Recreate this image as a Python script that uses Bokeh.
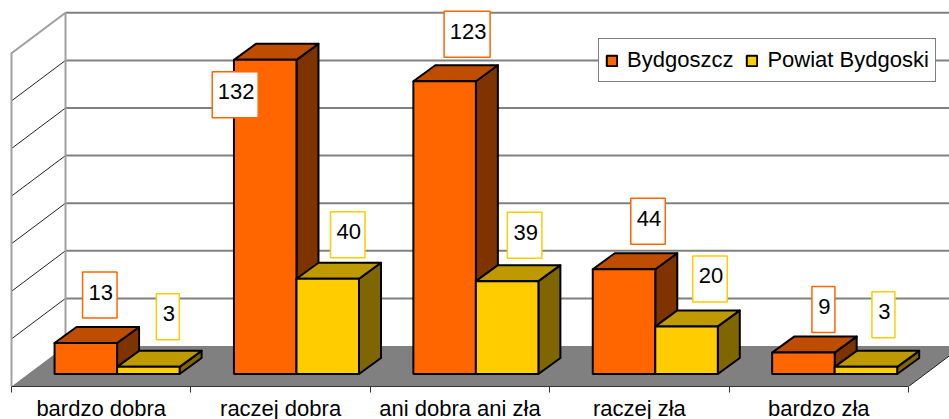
from bokeh.plotting import figure
from bokeh.models import FixedTicker, Legend, LegendItem, Range1d
from bokeh.core.properties import value
from bokeh.embed import file_html
from bokeh.resources import INLINE

categories = ["bardzo dobra", "raczej dobra", "ani dobra ani zła", "raczej zła", "bardzo zła"]
bydgoszcz = [13, 132, 123, 44, 9]
powiat = [3, 40, 39, 20, 3]
series_names = ["Bydgoszcz", "Powiat Bydgoski"]
grid_values = [0, 20, 40, 60, 80, 100, 120, 140]

# label placement relative to the bar's top centre (px right, px up)
by_label_dx = [14, -30, 22.5, 24, 20]
by_label_dy = [48, -35, 47, 48, 43]
po_label_dx = [19.5, 20, 17.5, 23.5, 17.5]
po_label_dy = [50, 44, 46, 47.5, 52]

PXX, PXY = 179.4, 2.38
FONT = "Liberation Sans"
BAR_START, BAR_W = 0.24, 0.3485
DX, DY = 22 / PXX, 16 / PXY
FLOOR_DX, FLOOR_DY = 54 / PXX, 40.5 / PXY
FLOOR_V = -12.5 / PXY
BACK_V = FLOOR_V + FLOOR_DY

FRAME_W, FRAME_H = 949, 386
x0 = -11 / PXX
x1 = x0 + FRAME_W / PXX
v0 = FLOOR_V
v1 = v0 + FRAME_H / PXY

p = figure(width=949, height=419, frame_width=FRAME_W, frame_height=FRAME_H,
           output_backend="svg", toolbar_location=None,
           x_range=Range1d(x0, x1), y_range=Range1d(v0, v1),
           min_border_left=0, min_border_right=0, min_border_top=0, min_border_bottom=0,
           y_axis_location=None, x_axis_location="below")
p.outline_line_color = None
p.grid.visible = False
p.background_fill_color = "white"

# floor
n = len(categories)
p.patch([0, n, n + FLOOR_DX, FLOOR_DX], [FLOOR_V, FLOOR_V, BACK_V, BACK_V],
        fill_color="#808080", line_color=None)
p.line([n, n + FLOOR_DX], [FLOOR_V, BACK_V], line_color="#222222", line_width=1)

# walls and grid
p.multi_line([[FLOOR_DX, x1 + 1] for g in grid_values[1:]],
             [[BACK_V + g, BACK_V + g] for g in grid_values[1:]],
             line_color="#808080", line_width=2)
p.multi_line([[0, FLOOR_DX] for g in grid_values[1:]],
             [[FLOOR_V + g, BACK_V + g] for g in grid_values[1:]],
             line_color="#222222", line_width=1)
top = BACK_V + grid_values[-1]
p.line([0, 0, FLOOR_DX, FLOOR_DX], [FLOOR_V, top - FLOOR_DY, top, BACK_V],
       line_color="#A0A0A0", line_width=2)


def draw_bars(values, offset, front, top_c, side):
    xl = [i + BAR_START + offset for i in range(len(values))]
    xr = [x + BAR_W for x in xl]
    p.patches([[r, r + DX, r + DX, r] for r in xr],
              [[0, DY, v + DY, v] for v in values],
              fill_color=side, line_color="black", line_width=2, line_join="round")
    p.patches([[l, l + DX, r + DX, r] for l, r in zip(xl, xr)],
              [[v, v + DY, v + DY, v] for v in values],
              fill_color=top_c, line_color="black", line_width=2, line_join="round")
    return p.quad(left=xl, right=xr, bottom=[0] * len(values), top=values,
                  fill_color=front, line_color="black", line_width=2)


r1 = draw_bars(bydgoszcz, 0, "#FF6600", "#BF4D00", "#7F3300")
r2 = draw_bars(powiat, BAR_W, "#FFCC00", "#BF9900", "#7F6600")


def draw_labels(values, offset, dxs, dys, color):
    xs = [i + BAR_START + offset + BAR_W / 2 + d / PXX for i, d in enumerate(dxs)]
    ys = [v + d / PXY for v, d in zip(values, dys)]
    widths = [11.5 * len(str(v)) + 11.5 for v in values]
    p.rect(xs, ys, width=widths, height=[46] * len(values), width_units="screen",
           height_units="screen", fill_color="white", line_color=color, line_width=1.5)
    p.text(xs, ys, text=[str(v) for v in values], text_align="center",
           text_baseline="middle", text_font=value(FONT), text_font_size="22px",
           text_color="black", x_offset=1, y_offset=-3)


draw_labels(bydgoszcz, 0, by_label_dx, by_label_dy, "#FF6600")
draw_labels(powiat, BAR_W, po_label_dx, po_label_dy, "#FFCC00")

# category axis: labels at the middle of each slot, tick marks between slots
ax = p.below[0]
ax.ticker = FixedTicker(ticks=[i + 0.5 for i in range(n)], minor_ticks=list(range(n + 1)))
ax.major_label_overrides = {i + 0.5: c for i, c in enumerate(categories)}
ax.major_tick_out = 0
ax.major_tick_in = 0
ax.minor_tick_out = 6
ax.minor_tick_in = 0
ax.minor_tick_line_color = "#333333"
ax.axis_line_color = "#333333"
ax.bounds = (0, n)
ax.major_label_standoff = 3
ax.major_label_text_font = FONT
ax.major_label_text_font_size = "22px"
ax.major_label_text_color = "black"

legend = Legend(items=[LegendItem(label=series_names[0], renderers=[r1]),
                       LegendItem(label=series_names[1], renderers=[r2])],
                orientation="horizontal", location=(598, 304),
                glyph_width=13, glyph_height=13, label_standoff=9, spacing=12,
                padding=6, margin=0, label_height=30,
                label_text_font=FONT, label_text_font_size="22px", label_text_color="black",
                label_text_baseline="middle",
                border_line_color="black", border_line_width=1,
                background_fill_color="white", background_fill_alpha=1)
p.add_layout(legend, "center")

open("out.html", "w").write(file_html(p, INLINE))
